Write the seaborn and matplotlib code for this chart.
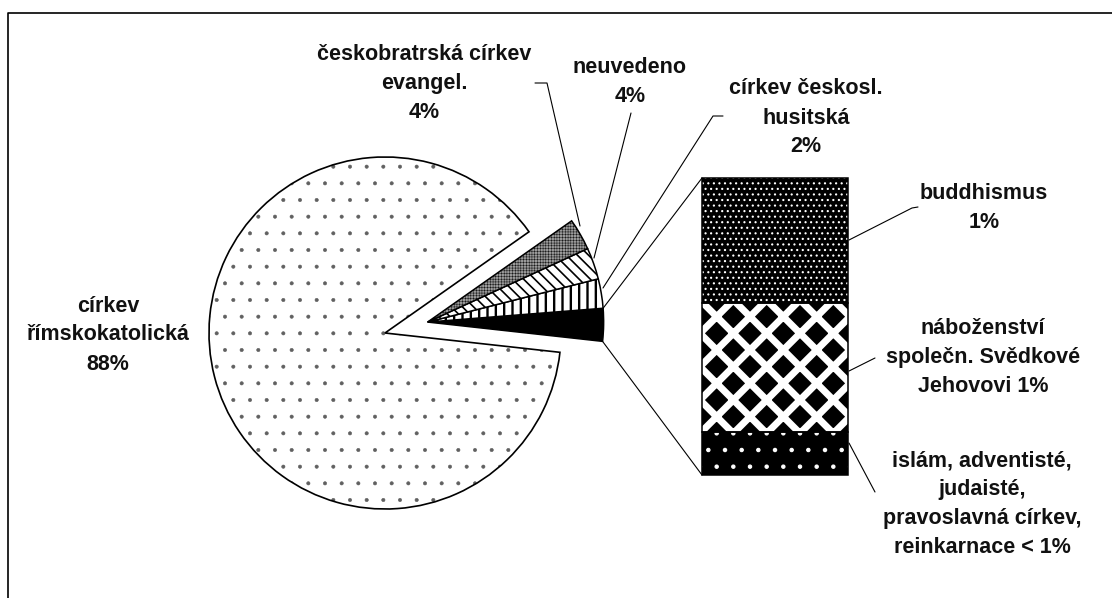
#religion pie-of-bar chart
import matplotlib
matplotlib.use("Agg")
import matplotlib.pyplot as plt
import seaborn as sns
import numpy as np

#data - pie slices in drawing order (counter clockwise from the start angle)
pie_labels = ["ostatní", "církev československá husitská", "neuvedeno",
              "českobratrská církev evangelická", "církev římskokatolická"]
pie_values = [3.0, 2.7, 2.9, 2.9, 88.5]
pie_texts = ["", "církev českosl.\nhusitská\n2%", "neuvedeno\n4%",
             "českobratrská církev\nevangel.\n4%", "církev\nřímskokatolická\n88%"]

#the "ostatní" slice split into the bar (top to bottom)
bar_labels = ["buddhismus", "Svědkové Jehovovi", "ostatní"]
bar_values = [42.0, 43.5, 14.5]
bar_texts = ["buddhismus\n1%", "náboženství\nspolečn. Svědkové\nJehovovi 1%",
             "islám, adventisté,\njudaisté,\npravoslavná církev,\nreinkarnace < 1%"]

sns.set_theme(style="white")
plt.rcParams['font.family'] = ['Liberation Sans', 'DejaVu Sans']

W, H = 1112, 598
def Y(y):
    #pixel row -> data y (data y goes up)
    return H - y

def hatch_lw(p, lw):
    plt.rcParams['hatch.linewidth'] = lw
    if hasattr(p, "set_hatch_linewidth"):
        p.set_hatch_linewidth(lw)

fig = plt.figure(figsize=(W / 100, H / 100), dpi=100)
ax = fig.add_axes([0, 0, 1, 1])

R = 176
start = -6.3
C0 = (385, Y(333))
#the small slices are pulled out together along their middle direction
small_sum = sum(pie_values[:4])
mid = np.deg2rad(start + small_sum / 100 * 360 / 2)
C1 = (C0[0] + 44 * np.cos(mid), C0[1] + 44 * np.sin(mid))

#big slice: gray dots fill, then black outline on top
big, _ = ax.pie(pie_values, startangle=start, center=C0, radius=R,
                wedgeprops=dict(facecolor="white", edgecolor="#606060", linewidth=0,
                                hatch="."), frame=True)
hatch_lw(big[4], 0.4)
big_out, _ = ax.pie(pie_values, startangle=start, center=C0, radius=R,
                    wedgeprops=dict(fill=False, edgecolor="black", linewidth=1.2),
                    frame=True)
for w in big[:4] + big_out[:4]:
    w.remove()

small, _ = ax.pie(pie_values, startangle=start, center=C1, radius=R,
                  explode=[0.018] * 4 + [0],
                  wedgeprops=dict(edgecolor="black", linewidth=1.1), frame=True)
small[4].remove()

styles = [("black", None, 1.0), ("white", "||", 1.7), ("white", "\\\\\\", 1.2),
          ("#9a9a9a", "++++++", 0.3)]
for w, (fc, hatch, hlw) in zip(small[:4], styles):
    w.set_facecolor(fc)
    w.set_hatch(hatch)
    hatch_lw(w, hlw)

#bar of the "ostatní" slice (drawn bottom up)
bx, bw = 775, 146
b_bottom, b_height = Y(475), 297
heights = np.array(bar_values[::-1]) / sum(bar_values) * b_height
bottoms = b_bottom + np.concatenate([[0], np.cumsum(heights)[:-1]])
bar_styles = [("black", "white", ".", 0.8), ("black", "white", "x", 5.0),
              ("black", "white", "...", 0.8)]
for h, b, (fc, hc, hatch, hlw) in zip(heights, bottoms, bar_styles):
    plt.rcParams['hatch.linewidth'] = hlw
    p = ax.bar(bx, h, bottom=b, width=bw, color=fc, edgecolor=hc,
               hatch=hatch, linewidth=0)[0]
    hatch_lw(p, hlw)
ax.bar(bx, heights, bottom=bottoms, width=bw, fill=False,
       edgecolor="black", linewidth=1.1)

#connector lines from the black slice to the bar
blk = small[0]
cx, cy = blk.center
t1, t2 = np.deg2rad(blk.theta1), np.deg2rad(blk.theta2)
top_pt = (cx + blk.r * np.cos(t2), cy + blk.r * np.sin(t2))
bot_pt = (cx + blk.r * np.cos(t1), cy + blk.r * np.sin(t1))
left = bx - bw / 2
ax.plot([top_pt[0], left], [top_pt[1], b_bottom + b_height], color="black", lw=0.8)
ax.plot([bot_pt[0], left], [bot_pt[1], b_bottom], color="black", lw=0.8)

#labels
txt = dict(ha="center", va="center", fontsize=15.5, fontweight="bold",
           linespacing=1.5, multialignment="center", color="#111111")
pie_pos = [None, (806, 118), (630, 82), (424, 84), (108, 335)]
for t, pos in zip(pie_texts, pie_pos):
    if pos:
        ax.text(pos[0], Y(pos[1]), t, **txt)
bar_pos = [(984, 208), (983, 357), (982, 504)]
for t, pos in zip(bar_texts, bar_pos):
    ax.text(pos[0], Y(pos[1]), t, **txt)

leaders = [
    [(535, 83), (547, 83), (580, 226)],
    [(631, 113), (594, 258)],
    [(723, 116), (713, 116), (603, 288)],
    [(918, 207), (912, 208), (849, 240)],
    [(875, 358), (849, 371)],
    [(849, 443), (875, 492)],
]
for pts in leaders:
    xs = [p[0] for p in pts]
    ys = [Y(p[1]) for p in pts]
    ax.plot(xs, ys, color="black", lw=0.8)

#chart frame
ax.plot([8, 8, W + 5], [-5, Y(13), Y(13)], color="black", lw=1.2)

ax.set_xlim(0, W)
ax.set_ylim(0, H)
ax.set_aspect("equal")
ax.axis("off")
fig.savefig("out.png", dpi=100)
